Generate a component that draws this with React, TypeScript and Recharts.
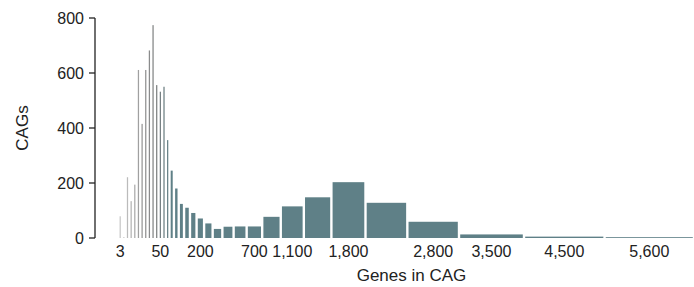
import { ComposedChart, XAxis, YAxis, ReferenceArea, Line } from "recharts";

// CAG size histogram: count of CAGs per bin, bins get wider to the right
const binCounts = [
  79, 3, 221, 134, 194, 611, 415, 611, 682, 774, 556, 532, 550, 356,
  245, 180, 124, 110, 91, 71, 53, 33,
  41, 42, 42, 77, 115, 148, 203, 128, 59, 13, 5, 3,
];

// relative width of each bin along the axis (as drawn in the figure)
const binSpan = [
  1, 1, 1, 1, 1, 1, 1, 1, 1, 1, 1, 1, 1, 1,
  1.21, 1.32, 1.46, 1.62, 1.81, 2.06, 2.34, 2.66,
  3.08, 3.57, 4.26, 5.08, 6.32, 7.55, 9.34, 11.46, 14.15, 17.8, 22.06, 24.5,
];

const tickLabels = ["3", "50", "200", "700", "1,100", "1,800", "2,800", "3,500", "4,500", "5,600"];
const tickBins = [0, 11, 19, 24, 26, 28, 30, 31, 32, 33];

const yTicks = [0, 200, 400, 600, 800];

const binStart = binSpan.map((_, i) => binSpan.slice(0, i).reduce((a, b) => a + b, 0));
const bins = binCounts.map((count, i) => ({
  x: binStart[i] + binSpan[i] / 2,
  lo: binStart[i],
  hi: binStart[i] + binSpan[i],
  count,
}));
const xMax = bins[bins.length - 1].hi;
const tickPos = tickBins.map((i) => bins[i].x);
const tickText = new Map(tickPos.map((p, k) => [p, tickLabels[k]]));

// grey -> slate teal along the first bins
const stops: [number, number[]][] = [
  [0, [200, 200, 200]],
  [3, [180, 180, 180]],
  [6, [150, 150, 150]],
  [10, [125, 128, 129]],
  [14, [95, 128, 135]],
];
function colorFor(i: number) {
  if (i >= stops[stops.length - 1][0]) {
    const c = stops[stops.length - 1][1];
    return `rgb(${c[0]},${c[1]},${c[2]})`;
  }
  let k = 0;
  while (stops[k + 1][0] <= i) k++;
  const [a, ca] = stops[k];
  const [b, cb] = stops[k + 1];
  const t = (i - a) / (b - a);
  const c = ca.map((v, j) => Math.round(v + (cb[j] - v) * t));
  return `rgb(${c[0]},${c[1]},${c[2]})`;
}

const GAP = 2.4;
const binShape = (fill: string) => (p: any) => {
  const w = Math.max(p.width - GAP, 1);
  return <rect x={p.x + (p.width - w) / 2} y={p.y} width={w} height={p.height} fill={fill} />;
};

const ink = "#222";

export default function App() {
  return (
    <div style={{ width: 694, height: 287, fontFamily: "'Liberation Sans', Arial, sans-serif" }}>
      <style>{"body{margin:0}"}</style>
      <ComposedChart width={694} height={287} data={bins} margin={{ top: 18, right: 0, bottom: 0, left: 0 }}>
        <XAxis
          type="number"
          dataKey="x"
          domain={[-6.4, xMax]}
          ticks={tickPos}
          interval={0}
          allowDataOverflow
          tickFormatter={(v: number) => tickText.get(v) ?? ""}
          axisLine={false}
          tickLine={false}
          tickSize={0}
          tickMargin={8}
          height={49}
          tick={{ fill: ink, fontSize: 16 }}
          label={{ value: "Genes in CAG", position: "insideBottom", offset: 6, dx: 17, style: { fontSize: 17, fill: ink } }}
        />
        <YAxis
          domain={[0, 800]}
          ticks={yTicks}
          width={95}
          tickSize={6}
          tickMargin={5}
          axisLine={{ stroke: ink, strokeWidth: 1.3 }}
          tickLine={{ stroke: ink, strokeWidth: 1.3 }}
          tick={{ fill: ink, fontSize: 16 }}
          label={{ value: "CAGs", angle: -90, position: "insideLeft", offset: 22, style: { fontSize: 17, fill: ink, textAnchor: "middle" } }}
        />
        {bins.map((b, i) => (
          <ReferenceArea
            key={i}
            x1={b.lo}
            x2={b.hi}
            y1={0}
            y2={b.count}
            ifOverflow="visible"
            shape={binShape(colorFor(i))}
          />
        ))}
        <Line dataKey="count" stroke="none" dot={false} activeDot={false} legendType="none" isAnimationActive={false} />
      </ComposedChart>
    </div>
  );
}
